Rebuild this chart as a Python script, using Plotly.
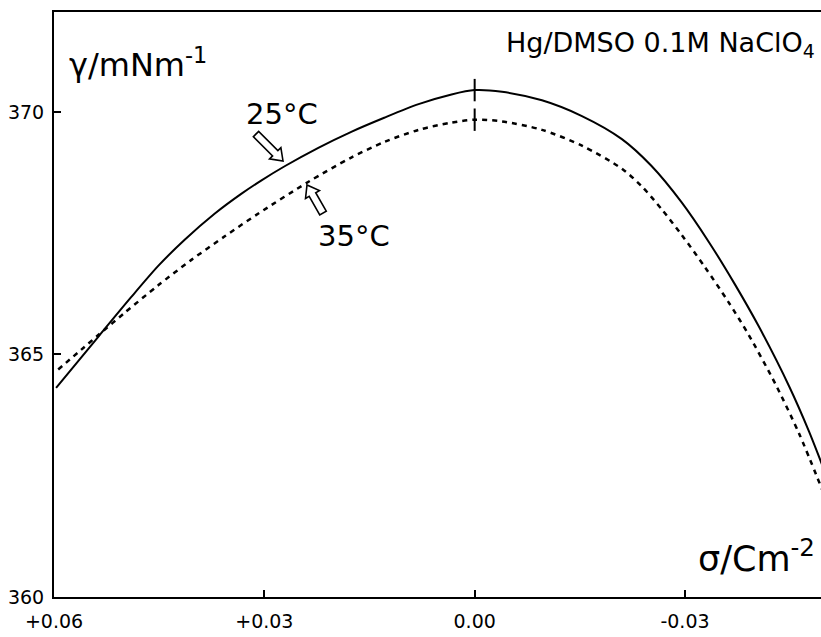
import math
import plotly.graph_objects as go

# charge density sigma (C m^-2) and surface tension gamma (mN m^-1)
sigma_25 = [0.0597, 0.0536, 0.0490, 0.0451, 0.0414, 0.0371, 0.0333, 0.0304, 0.0271, 0.0223,
            0.0176, 0.0129, 0.0080, 0.0033, 0.0, -0.0039, -0.0096, -0.0153, -0.0210, -0.0252,
            -0.0295, -0.0334, -0.0371, -0.0405, -0.0449, -0.0477, -0.0496]
gamma_25 = [364.31, 365.38, 366.18, 366.83, 367.36, 367.90, 368.31, 368.59, 368.88, 369.26,
            369.59, 369.88, 370.16, 370.36, 370.45, 370.415, 370.24, 369.915, 369.44, 368.89,
            368.14, 367.32, 366.45, 365.585, 364.33, 363.41, 362.71]

sigma_35 = [0.0594, 0.0557, 0.0536, 0.0500, 0.0451, 0.0404, 0.0357, 0.0309, 0.0237, 0.0176,
            0.0129, 0.0080, 0.0033, 0.0, -0.0039, -0.0096, -0.0153, -0.0210, -0.0238, -0.0267,
            -0.0295, -0.0328, -0.0362, -0.0391, -0.0429, -0.0463, -0.0496]
gamma_35 = [364.69, 365.15, 365.41, 365.85, 366.43, 366.95, 367.43, 367.90, 368.56, 369.06,
            369.38, 369.63, 369.78, 369.84, 369.805, 369.63, 369.305, 368.83, 368.47, 367.99,
            367.47, 366.81, 366.08, 365.40, 364.39, 363.36, 362.20]

x_tickvals = [0.06, 0.03, 0.0, -0.03]
x_ticktext = ["+0.06", "+0.03", "0.00", "-0.03"]
y_tickvals = [360, 365, 370]
y_ticktext = ["360", "365", "370"]

FONT = "DejaVu Sans"
W, H = 821, 637
ML, MR, MT, MB = 54, 0, 12, 40
PW, PH = W - ML - MR, H - MT - MB

fig = go.Figure()
fig.add_trace(go.Scatter(x=sigma_25, y=gamma_25, mode="lines", line=dict(color="black", width=2),
                         line_shape="spline", line_smoothing=0.8, showlegend=False))
fig.add_trace(go.Scatter(x=sigma_35, y=gamma_35, mode="lines",
                         line=dict(color="black", width=2.5, dash="5px,5px"),
                         line_shape="spline", line_smoothing=0.8, showlegend=False))

# short vertical markers at the maxima (sigma = 0)
i25 = sigma_25.index(0.0)
i35 = sigma_35.index(0.0)
fig.add_trace(go.Scatter(x=[sigma_25[i25], sigma_35[i35]], y=[gamma_25[i25], gamma_35[i35]],
                         mode="markers",
                         marker=dict(symbol="line-ns-open", size=16, color="black",
                                     line=dict(color="black", width=2)),
                         showlegend=False))


def px2paper(px, py):
    return (px - ML) / PW, (H - MB - py) / PH


def hollow_arrow(tail, tip, shaft_w=7.5, head_w=16.0, head_len=11.0):
    tx, ty = tail
    hx, hy = tip
    L = math.hypot(hx - tx, hy - ty)
    ux, uy = (hx - tx) / L, (hy - ty) / L
    nx, ny = -uy, ux
    bx, by = hx - ux * head_len, hy - uy * head_len
    pts = [
        (tx + nx * shaft_w / 2, ty + ny * shaft_w / 2),
        (bx + nx * shaft_w / 2, by + ny * shaft_w / 2),
        (bx + nx * head_w / 2, by + ny * head_w / 2),
        (hx, hy),
        (bx - nx * head_w / 2, by - ny * head_w / 2),
        (bx - nx * shaft_w / 2, by - ny * shaft_w / 2),
        (tx - nx * shaft_w / 2, ty - ny * shaft_w / 2),
    ]
    pp = [px2paper(x, y) for x, y in pts]
    path = "M " + " L ".join(f"{x:.5f},{y:.5f}" for x, y in pp) + " Z"
    return dict(type="path", xref="paper", yref="paper", path=path,
                line=dict(color="black", width=1.6), fillcolor="white", layer="above")


shapes = [hollow_arrow((256, 134), (283, 161)), hollow_arrow((323, 213), (307, 185))]

annotations = [
    dict(x=px2paper(67, 0)[0], y=px2paper(0, 63)[1], xref="paper", yref="paper",
         xanchor="left", yanchor="middle",
         text="γ/mNm<sup>-1</sup>", showarrow=False, font=dict(family=FONT, size=32, color="black")),
    dict(x=px2paper(817, 0)[0], y=px2paper(0, 44)[1], xref="paper", yref="paper",
         xanchor="right", yanchor="middle",
         text="Hg/DMSO 0.1M NaClO<sub>4</sub>", showarrow=False,
         font=dict(family=FONT, size=27, color="black")),
    dict(x=px2paper(817, 0)[0], y=px2paper(0, 556)[1], xref="paper", yref="paper",
         xanchor="right", yanchor="middle",
         text="σ/Cm<sup>-2</sup>", showarrow=False, font=dict(family=FONT, size=35, color="black")),
    dict(x=px2paper(244, 0)[0], y=px2paper(0, 114)[1], xref="paper", yref="paper",
         xanchor="left", yanchor="middle",
         text="25°C", showarrow=False, font=dict(family=FONT, size=29, color="black")),
    dict(x=px2paper(316, 0)[0], y=px2paper(0, 236)[1], xref="paper", yref="paper",
         xanchor="left", yanchor="middle",
         text="35°C", showarrow=False, font=dict(family=FONT, size=29, color="black")),
]

fig.update_layout(
    width=W, height=H,
    margin=dict(l=ML, r=MR, t=MT, b=MB),
    paper_bgcolor="white", plot_bgcolor="white",
    font=dict(family=FONT, size=19, color="black"),
    annotations=annotations,
    shapes=shapes,
    xaxis=dict(range=[0.06, -0.0494], tickvals=x_tickvals, ticktext=x_ticktext,
               showgrid=False, zeroline=False, showline=True, linecolor="black", linewidth=2,
               mirror=True, ticks="inside", ticklen=7, tickwidth=2, tickcolor="black",
               ticklabelstandoff=6),
    yaxis=dict(range=[360, 372.06], tickvals=y_tickvals, ticktext=y_ticktext,
               showgrid=False, zeroline=False, showline=True, linecolor="black", linewidth=2,
               ticks="inside", ticklen=7, tickwidth=2, tickcolor="black",
               ticklabelstandoff=4),
)

fig.write_html("out.html")
